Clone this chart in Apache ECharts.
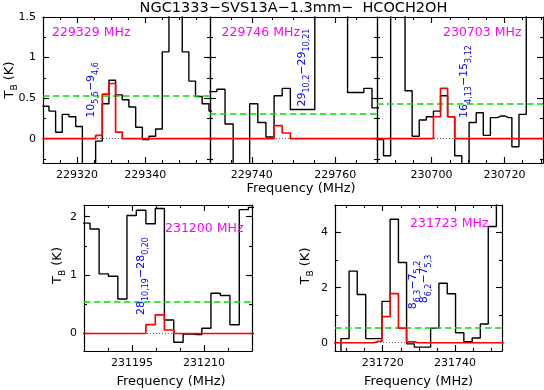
<!DOCTYPE html>
<html>
<head>
<meta charset="utf-8">
<script src="https://cdn.jsdelivr.net/npm/echarts@6/dist/echarts.min.js"></script>
<style>
  html, body { margin: 0; padding: 0; background: #fff; }
  #chart { width: 544px; height: 390px; }
</style>
</head>
<body>
<div id="chart"></div>
<script>
// channel centres (MHz), observed Tb (K) and LTE model (K) for each window
const freq229329 = [229310.8, 229312.7, 229314.7, 229316.6, 229318.6, 229320.6, 229322.5, 229324.5, 229326.4, 229328.4, 229330.3, 229332.3, 229334.2, 229336.2, 229338.2, 229340.1, 229342.1, 229344.0, 229346.0, 229347.9, 229349.9, 229351.8, 229353.8, 229355.7, 229357.7, 229359.7];
const tb229329 = [0.40, 0.34, 0.08, 0.30, 0.27, 0.15, -0.5, -0.5, -0.03, 0.43, 0.72, 0.54, 0.48, 0.39, 0.14, -0.01, 0.03, 0.12, 1.07, 2.0, 2.0, 1.07, 0.71, 0.52, 0.43, 0.34];
const model229329 = [0, 0, 0, 0, 0, 0, 0, 0, 0.04, 0.55, 0.68, 0.08, 0, 0, 0, 0, 0, 0, 0, 0, 0, 0, 0, 0, 0, 0];

const freq229746 = [229730.7, 229732.6, 229734.6, 229736.5, 229738.5, 229740.5, 229742.4, 229744.4, 229746.3, 229748.3, 229750.2, 229752.2, 229754.1, 229756.1, 229758.1, 229760.0, 229762.0, 229763.9, 229765.9, 229767.8, 229769.8];
const tb229746 = [0.58, 0.61, 0.18, -0.5, -0.5, 0.43, 0.2, 0.02, 0.53, 0.62, 0.36, 0.36, 0.36, 2, 2, 2, 2, 0.57, 0.57, 0.62, 0.38];
const model229746 = [0, 0, 0, 0, 0, 0, 0, 0, 0.16, 0.07, 0, 0, 0, 0, 0, 0, 0, 0, 0, 0, 0];

const freq230703 = [230685.8, 230687.8, 230689.7, 230691.7, 230693.7, 230695.6, 230697.6, 230699.5, 230701.5, 230703.4, 230705.4, 230707.3, 230709.3, 230711.3, 230713.2, 230715.2, 230717.1, 230719.1, 230721.1, 230723.0, 230725.0, 230727.0, 230728.9, 230730.9];
const tb230703 = [-0.01, -0.21, 2, 2, 0.59, 0.03, 0.23, 0.27, 0.34, 0.53, 0.27, -0.21, -0.5, 0.2, 0.32, 0.04, 0.26, 0.28, 0.26, -0.1, 0.3, 2, 2, 2];
const model230703 = [0, 0, 0, 0, 0, 0, 0, 0, 0.27, 0.62, 0.27, 0, 0, 0, 0, 0, 0, 0, 0, 0, 0, 0, 0, 0];

const freq231200 = [231185.3, 231187.2, 231189.1, 231191.1, 231193.0, 231194.9, 231196.9, 231198.9, 231200.8, 231202.7, 231204.7, 231206.6, 231208.6, 231210.5, 231212.4, 231214.4, 231216.4, 231218.3, 231220.2];
const tb231200 = [1.89, 1.79, 1.02, 0.98, 0.59, 2.02, 2.11, 1.88, 2.14, 0.23, -0.15, -0.01, -0.02, 0.09, 0.69, 0.65, 0.15, 2.12, 2.16];
const model231200 = [0, 0, 0, 0, 0, 0, 0, 0.15, 0.32, 0.06, 0, 0, 0, 0, 0, 0, 0, 0, 0];

const freq231723 = [231707.3, 231709.6, 231711.8, 231714.1, 231716.5, 231718.7, 231720.9, 231723.2, 231725.5, 231727.7, 231729.8, 231732.1, 231734.4, 231736.7, 231739.0, 231741.3, 231743.6, 231745.9, 231748.1, 231750.3, 231752.6];
const tb231723 = [-0.4, 0.15, 2.6, 1.75, 0.15, 0.15, 1.5, 4.48, 2.91, -0.04, -0.16, -0.16, 0.53, 2.16, 1.78, 0.36, 0.04, 0.17, 0.68, 4.22, 6];
const model231723 = [0, 0, 0, 0, 0, 0.05, 0.95, 1.78, 0.53, 0.03, 0, 0, 0, 0, 0, 0, 0, 0, 0, 0, 0];

// green dashed level (K)
const levels = [0.53, 0.31, 0.43, 0.54, 0.55];

// window labels and transitions  [J_upper, Ka,Kc, J_lower, Ka,Kc]
const windowNames = ['229329 MHz', '229746 MHz', '230703 MHz', '231200 MHz', '231723 MHz'];
const trans229329 = ['10', '5,5', '9', '4,6'];
const trans229746 = ['29', '10,2', '29', '10,21'];
const trans230703 = ['16', '4,13', '15', '3,12'];
const trans231200 = ['28', '10,19', '28', '0,20'];
const trans231723a = ['8', '6,3', '7', '5,2'];
const trans231723b = ['8', '6,2', '7', '5,3'];

// axis ticks
const xLabels229329 = [229320, 229340];
const xLabels229746 = [229740, 229760];
const xLabels230703 = [230700, 230720];
const xLabels231200 = [231195, 231210];
const xLabels231723 = [231720, 231740];
const yLabelsTop = [0, 0.5, 1, 1.5];
const yLabels231200 = [0, 1, 2];
const yLabels231723 = [0, 2, 4];

const FONT = 'DejaVu Sans';
const TITLE = 'NGC1333\u2212SVS13A\u22121.3mm\u2212  HCOCH2OH';

function steps(a, b, s) {
  const out = [];
  for (let v = a; v <= b + 1e-6; v += s) out.push(+v.toFixed(4));
  return out;
}

// histogram points: every channel covers half a channel on each side
function bins(freq, vals) {
  const pts = freq.map((f, i) => [f, vals[i]]);
  const w0 = freq[1] - freq[0];
  const w1 = freq[freq.length - 1] - freq[freq.length - 2];
  pts.unshift([freq[0] - w0 / 2, vals[0]]);
  pts.push([freq[freq.length - 1] + w1 / 2, vals[vals.length - 1]]);
  return pts;
}

const panels = [
  { grid: { left: 43, top: 17, width: 167, height: 146 }, x: [229310, 229359], y: [-0.3, 1.5],
    freq: freq229329, tb: tb229329, model: model229329, level: levels[0],
    xMinor: steps(229315, 229355, 5), xMajor: xLabels229329, yMinor: steps(-0.25, 1.25, 0.25), yMajor: yLabelsTop, yLab: true },
  { grid: { left: 210, top: 17, width: 167, height: 146 }, x: [229730, 229770], y: [-0.3, 1.5],
    freq: freq229746, tb: tb229746, model: model229746, level: levels[1],
    xMinor: steps(229735, 229765, 5), xMajor: xLabels229746, yMinor: steps(-0.25, 1.25, 0.25), yMajor: yLabelsTop, yLab: false },
  { grid: { left: 377, top: 17, width: 166, height: 146 }, x: [230685, 230730.6], y: [-0.3, 1.5],
    freq: freq230703, tb: tb230703, model: model230703, level: levels[2],
    xMinor: steps(230690, 230730, 5), xMajor: xLabels230703, yMinor: steps(-0.25, 1.25, 0.25), yMajor: yLabelsTop, yLab: false },
  { grid: { left: 84, top: 205, width: 168, height: 146 }, x: [231185, 231220], y: [-0.3, 2.2],
    freq: freq231200, tb: tb231200, model: model231200, level: levels[3],
    xMinor: steps(231190, 231215, 5), xMajor: xLabels231200, yMinor: steps(0, 2, 0.5), yMajor: yLabels231200, yLab: true },
  { grid: { left: 335, top: 205, width: 167, height: 146 }, x: [231706.8, 231753], y: [-0.3, 5],
    freq: freq231723, tb: tb231723, model: model231723, level: levels[4],
    xMinor: steps(231710, 231750, 5), xMajor: xLabels231723, yMinor: steps(0, 5, 1), yMajor: yLabels231723, yLab: true }
];

function axis(gi, ext, pos, ticks, len, line, labels, margin) {
  return {
    type: 'value', gridIndex: gi, position: pos, min: ext[0], max: ext[1],
    splitLine: { show: false },
    axisLine: { show: line, onZero: false, lineStyle: { color: '#000', width: 1.2 } },
    axisTick: { show: true, inside: true, length: len, customValues: ticks, lineStyle: { color: '#000', width: 1.1 } },
    axisLabel: labels
      ? { show: true, customValues: labels, formatter: (v) => String(v), margin: margin, color: '#000', fontFamily: FONT, fontSize: 11 }
      : { show: false }
  };
}

const option = { animation: false, backgroundColor: '#fff', grid: [], xAxis: [], yAxis: [], series: [], graphic: [] };

panels.forEach((p, gi) => {
  option.grid.push(Object.assign({ show: false }, p.grid));
  const xi = option.xAxis.length;
  const yi = option.yAxis.length;
  option.xAxis.push(
    axis(gi, p.x, 'bottom', p.xMinor, 3, true, p.xMajor, 7),
    axis(gi, p.x, 'bottom', p.xMajor, 6, false, null),
    axis(gi, p.x, 'top', p.xMinor, 3, true, null),
    axis(gi, p.x, 'top', p.xMajor, 6, false, null)
  );
  option.yAxis.push(
    axis(gi, p.y, 'left', p.yMinor, 3, true, p.yLab ? p.yMajor : null, 7),
    axis(gi, p.y, 'left', p.yMajor, 6, false, null),
    axis(gi, p.y, 'right', p.yMinor, 3, true, null),
    axis(gi, p.y, 'right', p.yMajor, 6, false, null)
  );
  const base = { type: 'line', xAxisIndex: xi, yAxisIndex: yi, symbol: 'none', silent: true, clip: true,
    step: 'middle', emphasis: { disabled: true } };
  option.series.push(
    Object.assign({}, base, {
      id: 'obs' + gi, z: 2, data: bins(p.freq, p.tb),
      lineStyle: { color: '#000000', width: 1.4 },
      markLine: {
        silent: true, symbol: ['none', 'none'], z: 3, animation: false,
        label: { show: false }, emphasis: { disabled: true },
        data: [
          { yAxis: 0, lineStyle: { color: '#666666', width: 1, type: [1, 2] } },
          { yAxis: p.level, lineStyle: { color: '#00e000', width: 1.7, type: [6.5, 3.5] } }
        ]
      }
    }),
    Object.assign({}, base, {
      id: 'model' + gi, z: 4, data: bins(p.freq, p.model),
      lineStyle: { color: '#ff0000', width: 1.7 }
    })
  );
});

const blueRich = {
  n: { fontFamily: FONT, fontSize: 11, fill: '#0000ff', lineHeight: 13, verticalAlign: 'top' },
  s: { fontFamily: FONT, fontSize: 8, fill: '#0000ff', lineHeight: 9, padding: [6, 0, 0, 0], verticalAlign: 'top' }
};
const blackRich = {
  n: { fontFamily: FONT, fontSize: 13, fill: '#000', lineHeight: 15, verticalAlign: 'top' },
  s: { fontFamily: FONT, fontSize: 9, fill: '#000', lineHeight: 10, padding: [7, 0, 0, 0], verticalAlign: 'top' }
};
function qn(t) { return '{n|' + t[0] + '}{s|' + t[1] + '}{n|\u2212' + t[2] + '}{s|' + t[3] + '}'; }

function text(x, y, str, opts) {
  return { type: 'text', x: x, y: y, rotation: opts.rot || 0, silent: true, z: 10,
    style: Object.assign({ text: str, align: 'center', verticalAlign: 'middle' }, opts.style) };
}

const g = option.graphic;
g.push(text(293.5, 8, TITLE, { style: { fill: '#000', font: '14.5px "DejaVu Sans"' } }));
// window frequency labels
[[52, 33], [221.5, 33], [443, 33], [165, 228.5], [410, 224]].forEach((pos, i) => {
  g.push(text(pos[0], pos[1], windowNames[i], { style: { align: 'left', fill: '#ff00ff', font: '12.5px "DejaVu Sans"' } }));
});
// transitions (rotated)
[[trans229329, 92.5, 90], [trans229746, 303, 67.5], [trans230703, 465.5, 81.5], [trans231200, 142.5, 276],
 [trans231723a, 414, 285], [trans231723b, 425.5, 279]].forEach((t) => {
  g.push(text(t[1], t[2], qn(t[0]), { rot: Math.PI / 2, style: { rich: blueRich } }));
});
// axis titles
[[11, 80], [59, 265.5], [306.5, 266]].forEach((pos) => {
  g.push(text(pos[0], pos[1], '{n|T}{s|B}{n| (K)}', { rot: Math.PI / 2, style: { rich: blackRich } }));
});
[[301, 189], [171, 382], [418.5, 382]].forEach((pos) => {
  g.push(text(pos[0], pos[1], 'Frequency (MHz)', { style: { fill: '#000', font: '13px "DejaVu Sans"' } }));
});

const chart = echarts.init(document.getElementById('chart'), null, { renderer: 'canvas' });
chart.setOption(option);
</script>
</body>
</html>
